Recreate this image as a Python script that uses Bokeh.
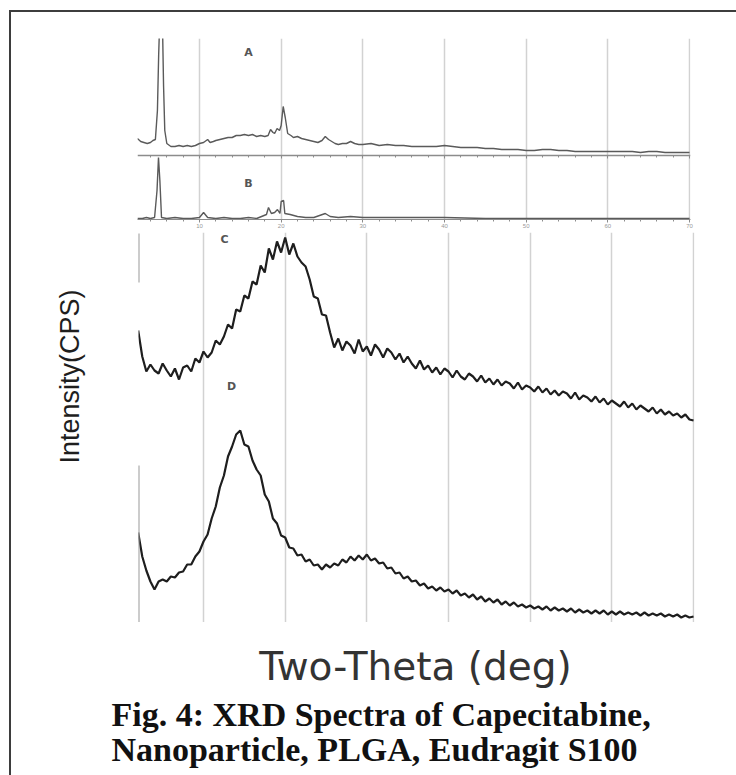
import numpy as np
from math import pi
from bokeh.plotting import figure
from bokeh.models import (Range1d, FixedTicker, SingleIntervalTicker, LinearAxis,
                          Label, Column, Row)
from bokeh.embed import file_html
from bokeh.resources import INLINE

# ---------------- data (2-theta in degrees, intensity in arbitrary counts) ----------
# A : Capecitabine
A_theta = [2.4, 2.8, 3.2, 3.6, 4.0, 4.3, 4.6, 4.85, 5.0, 5.15, 5.45, 5.6, 5.75, 6.0, 6.5,
           7.0, 7.5, 8.0, 8.5, 9.0, 9.5, 10.0, 10.5, 11.0, 11.3, 11.7, 12.0, 12.5, 13.0,
           13.5, 14.0, 14.5, 15.0, 15.5, 16.0, 16.5, 17.0, 17.5, 18.0, 18.4, 18.7, 19.0,
           19.2, 19.5, 19.8, 20.0, 20.25, 20.5, 20.8, 21.2, 21.5, 22.0, 22.5, 23.0, 23.5,
           24.0, 24.5, 25.0, 25.4, 25.8, 26.2, 26.6, 27.0, 27.5, 28.0, 28.5, 29.0, 29.5,
           30.0, 31.0, 32.0, 33.0, 34.0, 35.0, 36.0, 37.0, 38.0, 39.0, 40.0, 41.0, 42.0,
           43.0, 44.0, 45.0, 46.0, 47.0, 48.0, 49.0, 50.0, 51.0, 52.0, 53.0, 54.0, 55.0,
           56.0, 57.0, 58.0, 59.0, 60.0, 61.0, 62.0, 63.0, 64.0, 65.0, 66.0, 67.0, 68.0,
           69.0, 70.0]
A_counts = [17, 14, 13, 12, 13, 15, 16, 45, 100, 140, 140, 70, 25, 12, 9,
            9, 10, 9, 10, 9, 10, 12, 13, 16, 13, 14, 15, 16, 17,
            18, 18, 20, 20, 21, 20, 21, 19, 20, 19, 20, 26, 23,
            22, 27, 25, 30, 49, 38, 22, 20, 18, 19, 17, 16, 15,
            14, 13, 15, 19, 16, 14, 12, 11, 12, 12, 14, 12, 11,
            11, 12, 10, 11, 10, 10, 9, 9, 9, 9, 10, 9, 8,
            8, 8, 7, 7, 6, 6, 6, 5, 5, 6, 6, 5, 5,
            4, 4, 4, 4, 4, 4, 4, 4, 3, 4, 4, 3, 3,
            3, 3]

# B : Nanoparticle
B_theta = [2.4, 3.0, 3.5, 4.0, 4.5, 4.8, 4.98, 5.15, 5.35, 6.0, 7.0, 8.0, 9.0, 10.0,
           10.5, 11.0, 12.0, 13.0, 14.0, 15.0, 16.0, 17.0, 18.2, 18.45, 18.8, 19.2,
           19.55, 19.85, 20.0, 20.3, 20.45, 21.1, 22.0, 23.0, 24.0, 25.4, 26.0, 27.0,
           28.5, 30.0, 32.0, 35.0, 40.0, 45.0, 50.0, 55.0, 60.0, 65.0, 70.0]
B_counts = [1, 1, 2, 1, 2, 29, 62, 39, 2, 1, 2, 1, 1, 2,
            7, 2, 1, 2, 1, 1, 2, 1, 5, 12, 6, 7,
            10, 6, 18, 19, 6, 5, 3, 2, 2, 6, 3, 2,
            3, 2, 2, 2, 2, 1, 1, 1, 1, 1, 1]

# C : PLGA   and   D : Eudragit S100  (2-theta scan 2 - 70 deg, 0.5 deg step)
CD_theta = np.arange(2.0, 70.01, 0.5)
C_counts = [112, 86, 71, 78, 72, 69, 79, 72, 66, 74,
            63, 75, 77, 71, 84, 80, 91, 85, 90, 102,
            98, 106, 118, 114, 133, 131, 147, 144, 161, 158,
            177, 170, 194, 183, 201, 190, 205, 188, 199, 186,
            180, 176, 163, 146, 144, 128, 127, 110, 95, 104,
            92, 101, 97, 89, 103, 91, 96, 87, 98, 93,
            85, 94, 90, 83, 89, 80, 86, 79, 74, 82,
            73, 77, 70, 75, 68, 74, 71, 65, 72, 66,
            63, 69, 66, 61, 67, 60, 64, 58, 63, 57,
            61, 59, 54, 60, 53, 57, 55, 51, 56, 50,
            54, 48, 52, 47, 51, 49, 44, 50, 43, 47,
            45, 41, 46, 40, 44, 38, 42, 39, 36, 41,
            35, 39, 33, 37, 34, 31, 35, 29, 33, 28,
            31, 27, 29, 25, 28, 23, 22]
D_counts = [90, 66, 52, 41, 33, 41, 43, 41, 46, 45,
            50, 51, 58, 58, 66, 71, 81, 88, 104, 116,
            135, 147, 166, 176, 188, 192, 178, 176, 162, 153,
            147, 128, 121, 104, 99, 87, 85, 75, 74, 67,
            68, 61, 63, 57, 58, 53, 58, 55, 59, 57,
            63, 60, 66, 62, 67, 63, 68, 62, 64, 59,
            60, 54, 55, 49, 50, 44, 46, 41, 42, 37,
            39, 34, 36, 32, 35, 31, 33, 29, 32, 27,
            29, 25, 28, 23, 26, 21, 24, 20, 23, 18,
            21, 17, 20, 16, 18, 15, 17, 14, 16, 13,
            16, 12, 15, 12, 14, 11, 14, 10, 13, 10,
            12, 9, 12, 9, 12, 8, 11, 8, 11, 8,
            10, 8, 10, 7, 10, 7, 9, 7, 9, 6,
            8, 6, 8, 5, 7, 5, 6]

grid_ticks = [10, 20, 30, 40, 50, 60, 70]
trace_labels = ["A", "B", "C", "D"]
x_title = "Two-Theta (deg)"
y_title = "Intensity(CPS)"
caption = ["Fig. 4: XRD Spectra of Capecitabine,", "Nanoparticle, PLGA, Eudragit S100"]

# stacking offsets (layout only)
A_OFFSET = 64
C_OFFSET = 180
A_plot = [v + A_OFFSET for v in A_counts]
C_plot = [v + C_OFFSET for v in C_counts]

GRID = "#d2d2d2"
AX = "#8c8c8c"


def text_fig(w, h):
    f = figure(width=w, height=h, output_backend="svg", toolbar_location=None,
               x_range=Range1d(0, w), y_range=Range1d(0, h),
               x_axis_location=None, y_axis_location=None,
               min_border_left=0, min_border_right=0, min_border_top=0,
               min_border_bottom=0)
    f.outline_line_color = None
    f.grid.visible = False
    return f


# ---------------- top figure: A and B ----------------
pab = figure(width=725, height=220, output_backend="svg", toolbar_location=None,
             x_range=Range1d(2.41, 70.12), y_range=Range1d(0, 181),
             min_border_top=26, min_border_bottom=13, min_border_left=126,
             min_border_right=46)
pab.outline_line_color = None
pab.yaxis.visible = False
pab.ygrid.visible = False
pab.xgrid.ticker = FixedTicker(ticks=grid_ticks)
pab.xgrid.grid_line_color = GRID
pab.xgrid.grid_line_width = 1.5

xa = pab.xaxis[0]
xa.ticker = SingleIntervalTicker(interval=10, num_minor_ticks=5)
xa.axis_line_color = AX
xa.major_tick_line_color = AX
xa.minor_tick_line_color = AX
xa.major_tick_out = 3
xa.major_tick_in = 0
xa.minor_tick_out = 2
xa.minor_tick_in = 0
xa.major_label_text_font_size = "6px"
xa.major_label_text_color = "#9a9a9a"
xa.major_label_standoff = 1

a_axis = LinearAxis(fixed_location=A_OFFSET,
                    ticker=SingleIntervalTicker(interval=10, num_minor_ticks=5))
a_axis.axis_line_color = AX
a_axis.axis_line_width = 1.3
a_axis.major_tick_line_color = AX
a_axis.minor_tick_line_color = AX
a_axis.major_tick_out = 3
a_axis.major_tick_in = 0
a_axis.minor_tick_out = 2
a_axis.minor_tick_in = 0
a_axis.major_label_text_font_size = "0px"
a_axis.major_label_text_color = None
pab.add_layout(a_axis, "below")

pab.line(A_theta, A_plot, line_color="#5a5a5a", line_width=1.4)
pab.line(B_theta, B_counts, line_color="#5a5a5a", line_width=1.4)

for txt, xx, yy in [(trace_labels[0], 16.0, 167), (trace_labels[1], 16.0, 36)]:
    pab.add_layout(Label(x=xx, y=yy, text=txt, text_font="DejaVu Sans",
                         text_font_size="11px", text_font_style="bold",
                         text_color="#555555", text_align="center",
                         text_baseline="middle"))

# ---------------- left strip with the y title ----------------
pleft = text_fig(127, 390)
pleft.add_layout(Label(x=58, y=246, text=y_title, angle=pi / 2,
                       text_font="Liberation Sans",
                       text_font_size="27px", text_color="#1e1e1e",
                       text_align="center", text_baseline="middle"))

# ---------------- C and D panel ----------------
pcd = figure(width=598, height=390, output_backend="svg", toolbar_location=None,
             x_range=Range1d(2.04, 70.12), y_range=Range1d(0, 390),
             min_border_top=0, min_border_bottom=0, min_border_left=0,
             min_border_right=42)
pcd.outline_line_color = None
pcd.xaxis.visible = False
pcd.yaxis.visible = False
pcd.ygrid.visible = False
pcd.xgrid.ticker = FixedTicker(ticks=grid_ticks)
pcd.xgrid.grid_line_color = GRID
pcd.xgrid.grid_line_width = 1.5

for bnds in [(0, 157), (340, 389)]:
    ya = LinearAxis(fixed_location=2.04, bounds=bnds,
                    ticker=SingleIntervalTicker(interval=40, num_minor_ticks=2))
    ya.axis_line_color = "#9a9a9a"
    ya.axis_line_width = 2
    ya.major_tick_line_color = None
    ya.minor_tick_line_color = None
    ya.major_label_text_font_size = "0px"
    ya.major_label_text_color = None
    pcd.add_layout(ya, "left")

pcd.line(CD_theta, C_plot, line_color="#1e1e1e", line_width=2.2)
pcd.line(CD_theta, D_counts, line_color="#1e1e1e", line_width=2.2)

for txt, xx, yy in [(trace_labels[2], 12.57, 383), (trace_labels[3], 13.43, 236)]:
    pcd.add_layout(Label(x=xx, y=yy, text=txt, text_font="DejaVu Sans",
                         text_font_size="11px", text_font_style="bold",
                         text_color="#555555", text_align="center",
                         text_baseline="middle"))

# ---------------- bottom strip: x title and caption ----------------
pbot = text_fig(725, 153)
pbot.add_layout(Label(x=404, y=109, text=x_title, text_font="DejaVu Sans",
                      text_font_size="39px", text_color="#333333",
                      text_align="center", text_baseline="alphabetic"))
for i, line in enumerate(caption):
    pbot.add_layout(Label(x=100, y=61 - 35 * i, text=line,
                          text_font="Liberation Serif",
                          text_font_size="34px", text_font_style="bold",
                          text_color="#111111", text_align="left",
                          text_baseline="alphabetic"))

layout = Column(pab, Row(pleft, pcd, spacing=0), Row(pbot, spacing=0), spacing=0,
                styles={"border-top": "2px solid #3d3d3d",
                        "border-left": "2px solid #3d3d3d",
                        "margin-top": "10px", "margin-left": "9px"})

open("out.html", "w").write(file_html(layout, INLINE))
